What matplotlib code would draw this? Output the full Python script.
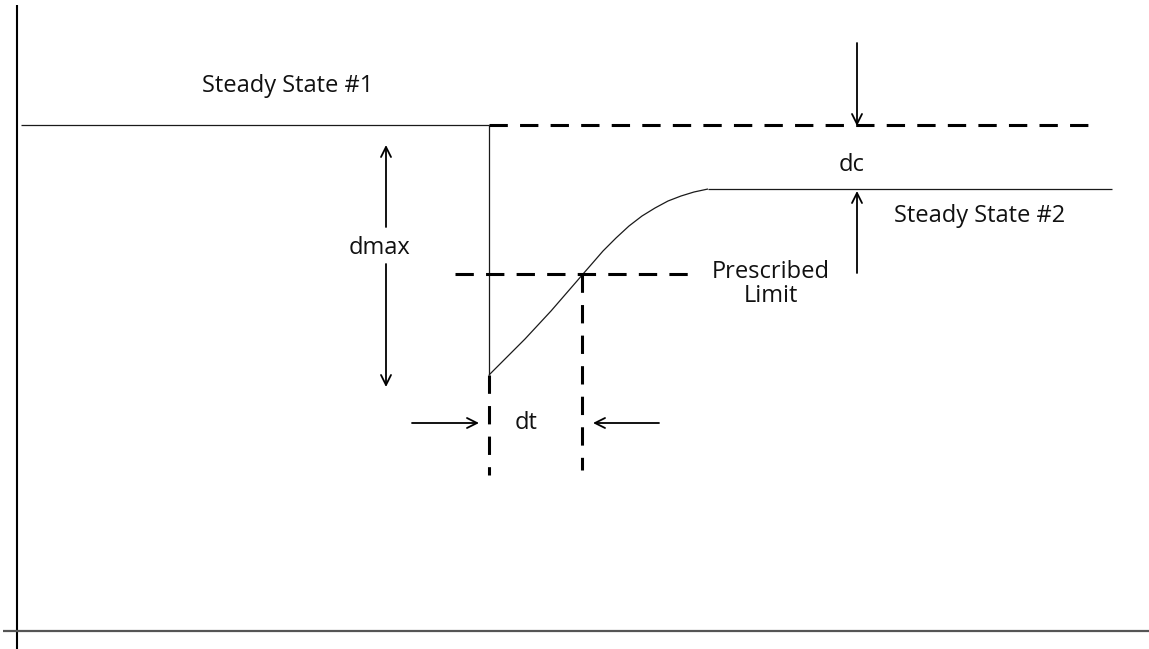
import matplotlib
matplotlib.use("Agg")
import matplotlib.pyplot as plt

# canvas coordinates follow the picture: x to the right, y downward (pixels)
FIG_W, FIG_H = 1149, 649

# levels of the response
ss1_level = 125
ss2_level = 189
limit_level = 274
dip_level = 375

# times
t_start = 21
t_step = 489
t_cross = 582
t_settle = 708
t_end = 1112
t_dash_end = 1100
t_limit_start = 455
t_limit_end = 693

# recovery curve
curve_t = [489, 500, 512, 525, 538, 551, 564, 577, 583, 590, 603, 616,
           629, 642, 655, 668, 681, 694, 708]
curve_y = [375, 364, 352, 339, 325, 311, 296, 281, 274, 266, 251, 238,
           226, 216, 208, 201, 196, 192, 189]

# axis frame
axis_x = 17
axis_y = 631

# annotation arrows: (tail, tip)
arrows = [
    ((386, 227), (386, 145)),   # dmax up
    ((386, 264), (386, 387)),   # dmax down
    ((412, 423), (479, 423)),   # dt from left
    ((659, 423), (593, 423)),   # dt from right
    ((857, 43), (857, 126)),    # dc down
    ((857, 273), (857, 191)),   # dc up
]

labels = [
    ("Steady State #1", 288, 86, "center"),
    ("Steady State #2", 894, 216, "left"),
    ("dmax", 380, 248, "center"),
    ("dc", 852, 165, "center"),
    ("dt", 526, 423, "center"),
    ("Prescribed\nLimit", 771, 284, "center"),
]

plt.rcParams["font.family"] = ["Open Sans", "DejaVu Sans"]

fig = plt.figure(figsize=(FIG_W / 100, FIG_H / 100), dpi=100)
ax = fig.add_axes([0, 0, 1, 1])
ax.set_xlim(0, FIG_W)
ax.set_ylim(FIG_H, 0)
ax.axis("off")

# frame
ax.plot([axis_x, axis_x], [5, FIG_H], color="black", lw=1.5, solid_capstyle="butt")
ax.plot([3, FIG_W], [axis_y, axis_y], color="#555555", lw=1.6, solid_capstyle="butt")

thin = dict(color="#1a1a1a", lw=0.9, solid_capstyle="butt")
dashed = dict(color="black", lw=2.2, linestyle=(0, (6, 4)), dash_capstyle="butt")

# response
ax.plot([t_start, t_step], [ss1_level, ss1_level], **thin)
ax.plot([t_step, t_step], [ss1_level, dip_level], **thin)
ax.plot(curve_t, curve_y, **thin)
ax.plot([t_settle, t_end], [ss2_level, ss2_level], **thin)

# dashed guides
ax.plot([t_step, t_dash_end], [ss1_level, ss1_level], **dashed)
ax.plot([t_limit_start, t_limit_end], [limit_level, limit_level], **dashed)
ax.plot([t_step, t_step], [dip_level, 475], **dashed)
ax.plot([t_cross, t_cross], [limit_level, 470], **dashed)

for tail, tip in arrows:
    ax.annotate("", xy=tip, xytext=tail,
                arrowprops=dict(arrowstyle="->", lw=1.3, color="black",
                                mutation_scale=18, shrinkA=0, shrinkB=0))

for text, x, y, ha in labels:
    ax.text(x, y, text, ha=ha, va="center", fontsize=17, color="#111111",
            linespacing=1.0, multialignment="center")

fig.savefig("out.png", dpi=100, facecolor="white")
